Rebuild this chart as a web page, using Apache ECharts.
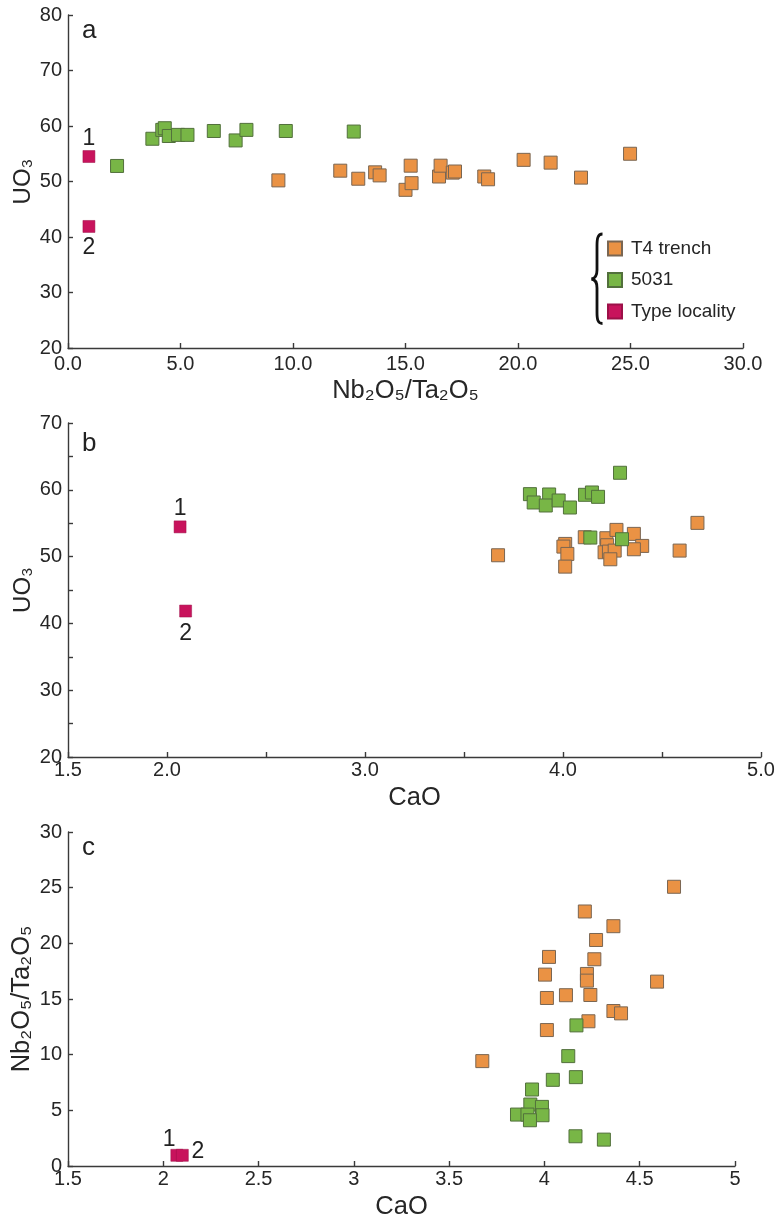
<!DOCTYPE html>
<html>
<head>
<meta charset="utf-8">
<script src="https://cdn.jsdelivr.net/npm/echarts@6/dist/echarts.min.js"></script>
<style>
html,body{margin:0;padding:0;background:#fff;}
#chart{width:776px;height:1222px;}
</style>
</head>
<body>
<div id="chart"></div>
<script>
// Panel a: Nb2O5/Ta2O5 (x) vs UO3 (y)
const aT4Ratio = [9.35, 12.1, 12.9, 13.65, 13.85, 15.0, 15.23, 15.27, 16.49, 16.56, 17.1, 17.2, 18.5, 18.67, 20.25, 21.45, 22.8, 24.98];
const aT4UO3   = [50.2, 51.95, 50.5, 51.65, 51.1, 48.5, 52.85, 49.7, 50.9, 52.85, 51.6, 51.8, 50.9, 50.4, 53.9, 53.4, 50.7, 55.0];
const a5031Ratio = [2.18, 3.75, 4.19, 4.3, 4.48, 4.89, 5.31, 6.48, 7.45, 7.93, 9.68, 12.7];
const a5031UO3   = [52.8, 57.7, 59.3, 59.6, 58.2, 58.4, 58.4, 59.1, 57.4, 59.3, 59.1, 59.0];
const aTypeRatio = [0.93, 0.93];
const aTypeUO3   = [54.5, 41.9];

// Panel b: CaO (x) vs UO3 (y)
const bT4CaO = [3.672, 4.011, 4.002, 4.022, 4.011, 4.11, 4.219, 4.223, 4.27, 4.358, 4.4, 4.358, 4.21, 4.232, 4.261, 4.239, 4.589, 4.679];
const bT4UO3 = [50.2, 51.9, 51.5, 50.4, 48.5, 52.9, 52.75, 51.7, 54.0, 53.4, 51.6, 51.1, 50.65, 50.75, 50.9, 49.6, 50.9, 55.05];
const b5031CaO = [4.288, 3.833, 3.852, 3.93, 3.913, 3.978, 4.035, 4.111, 4.146, 4.177, 4.138, 4.298];
const b5031UO3 = [62.55, 59.35, 58.1, 59.3, 57.65, 58.4, 57.35, 59.25, 59.6, 58.95, 52.85, 52.6];
const bTypeCaO = [2.066, 2.094];
const bTypeUO3 = [54.45, 41.85];

// Panel c: CaO (x) vs Nb2O5/Ta2O5 (y)
const cT4CaO = [4.68, 4.212, 4.362, 4.271, 4.024, 4.262, 4.003, 4.223, 4.223, 4.591, 4.013, 4.113, 4.241, 4.362, 4.402, 4.231, 4.013, 3.674];
const cT4Ratio = [25.08, 22.86, 21.54, 20.3, 18.78, 18.57, 17.19, 17.25, 16.65, 16.56, 15.09, 15.34, 15.36, 13.92, 13.71, 13.0, 12.21, 9.42];
const c5031CaO = [4.168, 4.125, 4.044, 4.165, 3.935, 3.926, 3.987, 3.856, 3.911, 3.99, 3.924, 4.163, 4.312];
const c5031Ratio = [12.63, 9.87, 7.74, 7.98, 6.87, 5.52, 5.31, 4.62, 4.62, 4.56, 4.11, 2.67, 2.37];
const cTypeCaO = [2.071, 2.100];
const cTypeRatio = [0.96, 0.96];

const typeLabels = ['1', '2'];
const seriesNames = ['T4 trench', '5031', 'Type locality'];

const FONT = '"Liberation Sans", Arial, sans-serif';
const INK = '#262626';
const AX = '#3a3a3a';

const styles = {
  'T4 trench': {color: '#EA9244', borderColor: '#7a6652', borderWidth: 1, opacity: 1},
  '5031': {color: '#78B646', borderColor: '#52703c', borderWidth: 1, opacity: 1},
  'Type locality': {color: '#C8135C', borderColor: '#9c1048', borderWidth: 0.5, opacity: 1}
};

function zip(xs, ys) { return xs.map((x, i) => [x, ys[i]]); }

function pointSeries(name, idx, xs, ys, size) {
  return {
    type: 'scatter', name: name, xAxisIndex: idx, yAxisIndex: idx,
    symbol: 'rect', symbolSize: size,
    itemStyle: styles[name],
    data: zip(xs, ys),
    silent: true,
    animation: false
  };
}

function typeSeries(idx, xs, ys, labelCfgs) {
  const data = xs.map((x, i) => ({
    value: [x, ys[i]],
    label: Object.assign({show: true, formatter: typeLabels[i], color: '#222', fontSize: 23, fontFamily: FONT}, labelCfgs[i])
  }));
  return {
    type: 'scatter', name: 'Type locality', xAxisIndex: idx, yAxisIndex: idx,
    symbol: 'rect', symbolSize: 12, itemStyle: styles['Type locality'],
    data: data, silent: true, animation: false
  };
}

function xAxisCfg(idx, min, max, interval, name, fmt, labelMargin, nameGap) {
  return {
    type: 'value', gridIndex: idx, min: min, max: max, interval: interval,
    name: name, nameLocation: 'middle', nameGap: nameGap, nameMoveOverlap: false,
    nameTextStyle: {fontSize: 25.5, color: INK, fontFamily: FONT},
    axisLine: {show: true, onZero: false, lineStyle: {color: AX, width: 1.4}},
    axisTick: {show: true, inside: true, length: 5, lineStyle: {color: AX, width: 1.4}},
    axisLabel: {fontSize: 20, color: INK, fontFamily: FONT, margin: labelMargin, formatter: fmt, showMinLabel: true, showMaxLabel: true},
    splitLine: {show: false}
  };
}
function yAxisCfg(idx, min, max, interval, name, fmt, nameGap, nameSize) {
  return {
    type: 'value', gridIndex: idx, min: min, max: max, interval: interval,
    name: name, nameLocation: 'middle', nameGap: nameGap, nameMoveOverlap: false,
    nameTextStyle: {fontSize: nameSize, color: INK, fontFamily: FONT},
    axisLine: {show: true, onZero: false, lineStyle: {color: AX, width: 1.4}},
    axisTick: {show: true, inside: true, length: 5, lineStyle: {color: AX, width: 1.4}},
    axisLabel: {fontSize: 20, color: INK, fontFamily: FONT, margin: 6, formatter: fmt, showMinLabel: true, showMaxLabel: true},
    splitLine: {show: false}
  };
}

const braceStyle = {stroke: '#111', lineWidth: 2.8, fill: null};
function bez(x1, y1, c1x, c1y, c2x, c2y, x2, y2) {
  return {type: 'bezierCurve', silent: true,
    shape: {x1: x1, y1: y1, cpx1: c1x, cpy1: c1y, cpx2: c2x, cpy2: c2y, x2: x2, y2: y2},
    style: braceStyle};
}
function seg(x1, y1, x2, y2) {
  return {type: 'line', silent: true, shape: {x1: x1, y1: y1, x2: x2, y2: y2}, style: braceStyle};
}

const chart = echarts.init(document.getElementById('chart'), null, {renderer: 'canvas'});

const gridBase = {outerBoundsMode: 'none', containLabel: false};
const option = {
  backgroundColor: '#ffffff',
  animation: false,
  textStyle: {fontFamily: FONT},
  grid: [
    Object.assign({left: 68, top: 15, width: 675, height: 333}, gridBase),
    Object.assign({left: 68, top: 423, width: 693, height: 334}, gridBase),
    Object.assign({left: 68, top: 832, width: 667, height: 334}, gridBase)
  ],
  xAxis: [
    xAxisCfg(0, 0, 30, 5, 'Nb₂O₅/Ta₂O₅', v => v.toFixed(1), 6, 30),
    xAxisCfg(1, 1.5, 5, 0.5, 'CaO', v => (Math.abs(v - 1.5) < 1e-6 || Math.abs(v - Math.round(v)) < 1e-6) ? v.toFixed(1) : '', 3, 28),
    xAxisCfg(2, 1.5, 5, 0.5, 'CaO', v => String(v), 3, 28)
  ],
  yAxis: [
    yAxisCfg(0, 20, 80, 10, 'UO₃', v => String(v), 33, 24),
    yAxisCfg(1, 20, 70, 5, 'UO₃', v => (v % 10 === 0 ? String(v) : ''), 33, 24),
    yAxisCfg(2, 0, 30, 5, 'Nb₂O₅/Ta₂O₅', v => String(v), 33, 25.5)
  ],
  legend: {
    orient: 'vertical', left: 607, top: 239,
    itemWidth: 14, itemHeight: 14, itemGap: 12.5,
    padding: 0, icon: 'rect',
    selectedMode: false,
    textStyle: {fontSize: 19, lineHeight: 19, color: INK, fontFamily: FONT, padding: [0, 0, 0, 4]},
    data: seriesNames
  },
  graphic: [
    bez(602.5, 234, 597.5, 234, 597, 239, 597, 246),
    seg(597, 246, 597, 270),
    bez(597, 270, 597, 276, 595.5, 278.5, 591.5, 279),
    bez(591.5, 279, 595.5, 279.5, 597, 282, 597, 288),
    seg(597, 288, 597, 312),
    bez(597, 312, 597, 319, 597.5, 323.5, 602.5, 323.5),
    {type: 'text', silent: true, style: {text: 'a', x: 82, y: 31, font: '26px ' + FONT, fill: '#222', textVerticalAlign: 'middle'}},
    {type: 'text', silent: true, style: {text: 'b', x: 82, y: 444, font: '26px ' + FONT, fill: '#222', textVerticalAlign: 'middle'}},
    {type: 'text', silent: true, style: {text: 'c', x: 82, y: 848, font: '26px ' + FONT, fill: '#222', textVerticalAlign: 'middle'}}
  ],
  series: [
    pointSeries('T4 trench', 0, aT4Ratio, aT4UO3, 13),
    pointSeries('5031', 0, a5031Ratio, a5031UO3, 13),
    typeSeries(0, aTypeRatio, aTypeUO3, [{position: 'top', distance: 0}, {position: 'bottom', distance: 3}]),
    pointSeries('T4 trench', 1, bT4CaO, bT4UO3, 13),
    pointSeries('5031', 1, b5031CaO, b5031UO3, 13),
    typeSeries(1, bTypeCaO, bTypeUO3, [{position: 'top', distance: 0}, {position: 'bottom', distance: 5}]),
    pointSeries('T4 trench', 2, cT4CaO, cT4Ratio, 13),
    pointSeries('5031', 2, c5031CaO, c5031Ratio, 13),
    typeSeries(2, cTypeCaO, cTypeRatio, [{position: 'left', distance: 0, offset: [5, -16]}, {position: 'right', distance: 3, offset: [0, -4]}])
  ]
};
chart.setOption(option);
</script>
</body>
</html>
